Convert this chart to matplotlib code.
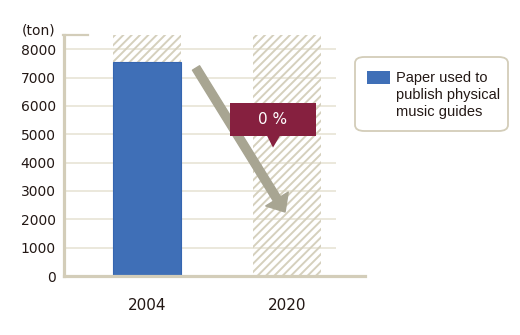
import matplotlib.pyplot as plt
from matplotlib.patches import Polygon, FancyBboxPatch, Rectangle
from matplotlib.lines import Line2D

# data
years = ["2004", "2020"]
paper_tons = [7550, 0]
y_ticks = [0, 1000, 2000, 3000, 4000, 5000, 6000, 7000, 8000]
y_max = 8500
change_label = "0 %"
legend_label = "Paper used to\npublish physical\nmusic guides"

# colours
BLUE = "#3f6fb7"
HATCH = "#d5d0bd"
AXIS = "#d3cdb9"
GRID = "#e8e4d6"
ARROW = "#a8a592"
MAROON = "#86203f"
TEXT = "#231815"

plt.rcParams["hatch.linewidth"] = 1.4

fig = plt.figure(figsize=(5.2, 3.35), dpi=100)
ax = fig.add_axes([64 / 520, 59 / 335, 272 / 520, 241 / 335])

x = list(range(len(years)))
ax.set_xlim(-0.593, 1.35)
ax.set_ylim(0, y_max)

# hatched background columns, then the real values
ax.bar(x, [y_max] * len(x), width=0.486, facecolor="none", edgecolor=HATCH,
       hatch="////", linewidth=0, zorder=1)
ax.bar(x, paper_tons, width=0.486, color=BLUE, edgecolor="#3565b0",
       linewidth=0.8, zorder=2)

# grid
for t in y_ticks[1:]:
    ax.axhline(t, color=GRID, linewidth=1.2, zorder=0)

ax.set_yticks(y_ticks)
ax.set_xticks(x)
ax.set_xticklabels(years)
ax.tick_params(axis="y", length=0, pad=6, labelsize=10, labelcolor=TEXT)
ax.tick_params(axis="x", length=0, pad=16, labelsize=11, labelcolor=TEXT)

for s in ["top", "right", "bottom"]:
    ax.spines[s].set_visible(False)
ax.spines["left"].set_color(AXIS)
ax.spines["left"].set_linewidth(2.3)

# bottom axis line (runs past the plot area) and top cap of the y axis
ax.add_line(Line2D([0, 1.107], [0, 0], transform=ax.transAxes, color=AXIS,
                   linewidth=2.3, clip_on=False, zorder=3))
ax.add_line(Line2D([-0.004, 0.088], [1, 1], transform=ax.transAxes, color=AXIS,
                   linewidth=1.6, clip_on=False, zorder=3))

fig.text(55 / 520, 1 - 30 / 335, "(ton)", ha="right", va="center",
         fontsize=10, color=TEXT)

# trend arrow
ax.annotate("", xy=(0.986, 2257), xytext=(0.35, 7337),
            arrowprops=dict(arrowstyle="simple,head_length=11,head_width=19,tail_width=6",
                            mutation_scale=1, color=ARROW, shrinkA=0, shrinkB=0),
            zorder=4)

# callout
ax.add_patch(Rectangle((0.593, 4938), 1.207 - 0.593, 6102 - 4938,
                       facecolor=MAROON, edgecolor="none", zorder=5))
ax.add_patch(Polygon([(0.857, 4950), (0.95, 4950), (0.9, 4530)],
                     closed=True, facecolor=MAROON, edgecolor="none", zorder=5))
ax.text(0.9, 5520, change_label, ha="center", va="center", color="white",
        fontsize=11, zorder=6)

# legend
fig.patches.append(FancyBboxPatch((355 / 520, 1 - 131 / 335), 153 / 520, 74 / 335,
                                  boxstyle="round,pad=0,rounding_size=0.018",
                                  transform=fig.transFigure, facecolor="white",
                                  edgecolor=AXIS, linewidth=1.3))
fig.patches.append(Rectangle((367 / 520, 1 - 84 / 335), 23 / 520, 13 / 335,
                             transform=fig.transFigure, facecolor=BLUE,
                             edgecolor="none"))
fig.text(396 / 520, 1 - 95 / 335, legend_label, ha="left", va="center",
         fontsize=10.5, family="Liberation Sans", color=TEXT, linespacing=1.3)

fig.savefig("out.png", dpi=100)
